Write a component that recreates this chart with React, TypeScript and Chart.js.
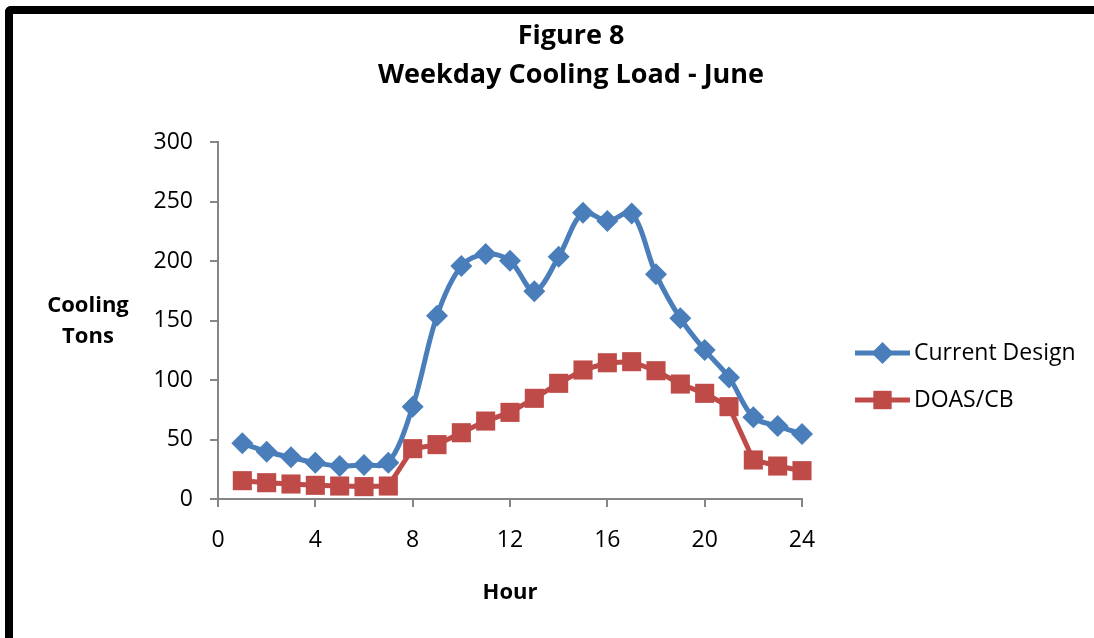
import React, { useEffect, useRef } from 'react';
import { Chart, registerables } from 'chart.js';

Chart.register(...registerables);

const hours = [1, 2, 3, 4, 5, 6, 7, 8, 9, 10, 11, 12, 13, 14, 15, 16, 17, 18, 19, 20, 21, 22, 23, 24];
const currentDesign = [46.8, 39.7, 35, 30.5, 27.7, 28.6, 30.5, 77.6, 154, 195.8, 205.9, 200.3, 174.5, 203.6, 240.6, 233.6, 240, 188.8, 151.8, 125.2, 102.2, 68.6, 61.3, 54.6];
const doasCb = [15.4, 13.7, 12.6, 11.5, 10.9, 10.4, 10.9, 42.3, 45.7, 55.7, 65.5, 72.8, 84.6, 97.2, 108.4, 114.5, 115.4, 107.8, 96.6, 88.8, 77.6, 32.8, 27.7, 23.8];
const seriesNames = ['Current Design', 'DOAS/CB'];
const titleLines = ['Figure 8', 'Weekday Cooling Load - June'];
const yTitleLines = ['Cooling', 'Tons'];
const xTitle = 'Hour';
const xMin = 0;
const xMax = 24;
const xStep = 4;
const yMin = 0;
const yMax = 300;
const yStep = 50;

const BLUE = '#4A7EBB';
const RED = '#BE4B48';
const AXIS = '#868686';
const FONT = "'Open Sans', sans-serif";

const textPlugin = {
  id: 'customText',
  afterDraw(chart: any) {
    const ctx = chart.ctx;
    const area = chart.chartArea;
    ctx.save();
    ctx.fillStyle = '#000';
    ctx.textAlign = 'center';
    ctx.textBaseline = 'middle';
    ctx.font = `bold 27px ${FONT}`;
    ctx.fillText(titleLines[0], 571, 36);
    ctx.fillText(titleLines[1], 571, 75);
    ctx.font = `bold 22px ${FONT}`;
    ctx.fillText(yTitleLines[0], 88, 306);
    ctx.fillText(yTitleLines[1], 88, 337);
    const colors = [BLUE, RED];
    const styles = ['rectRot', 'rect'];
    const radii = [11, 13];
    const ys = [353, 400];
    const lx0 = area.right + 53;
    const lx1 = area.right + 108;
    for (let i = 0; i < seriesNames.length; i++) {
      const y = ys[i];
      ctx.strokeStyle = colors[i];
      ctx.lineWidth = 5;
      ctx.beginPath();
      ctx.moveTo(lx0, y);
      ctx.lineTo(lx1, y);
      ctx.stroke();
      ctx.fillStyle = colors[i];
      ctx.beginPath();
      const cx = (lx0 + lx1) / 2;
      if (styles[i] === 'rectRot') {
        const r = radii[i];
        ctx.moveTo(cx - r, y);
        ctx.lineTo(cx, y - r);
        ctx.lineTo(cx + r, y);
        ctx.lineTo(cx, y + r);
        ctx.closePath();
      } else {
        const s = radii[i] * Math.SQRT1_2;
        ctx.rect(cx - s, y - s, 2 * s, 2 * s);
      }
      ctx.fill();
      ctx.fillStyle = '#000';
      ctx.textAlign = 'left';
      ctx.font = `23px ${FONT}`;
      ctx.fillText(seriesNames[i], lx1 + 4, y);
    }
    ctx.restore();
  },
};

export default function App() {
  const canvasRef = useRef<HTMLCanvasElement | null>(null);

  useEffect(() => {
    const canvas = canvasRef.current;
    if (!canvas) return;
    const chart = new Chart(canvas, {
      type: 'line',
      data: {
        datasets: [
          {
            label: seriesNames[0],
            data: hours.map((h, i) => ({ x: h, y: currentDesign[i] })),
            borderColor: BLUE,
            backgroundColor: BLUE,
            borderWidth: 5,
            tension: 0.33,
            pointStyle: 'rectRot',
            pointRadius: 11,
            pointBorderWidth: 0,
            pointBackgroundColor: BLUE,
            pointBorderColor: BLUE,
            clip: false,
          },
          {
            label: seriesNames[1],
            data: hours.map((h, i) => ({ x: h, y: doasCb[i] })),
            borderColor: RED,
            backgroundColor: RED,
            borderWidth: 5,
            tension: 0,
            pointStyle: 'rect',
            pointRadius: 13.5,
            pointBorderWidth: 0,
            pointBackgroundColor: RED,
            pointBorderColor: RED,
            clip: false,
          },
        ],
      },
      options: {
        animation: false,
        responsive: false,
        devicePixelRatio: 1,
        layout: { padding: { top: 142, left: 0, right: 292, bottom: 0 } },
        plugins: {
          legend: { display: false },
          title: { display: false },
          tooltip: { enabled: false },
        },
        scales: {
          x: {
            type: 'linear',
            min: xMin,
            max: xMax,
            ticks: {
              stepSize: xStep,
              color: '#000',
              font: { family: FONT, size: 23 },
              padding: 20,
              maxRotation: 0,
            },
            grid: {
              drawOnChartArea: false,
              drawTicks: true,
              tickLength: 8,
              color: AXIS,
              lineWidth: 2,
            },
            border: { display: true, color: AXIS, width: 2 },
            title: {
              display: true,
              text: xTitle,
              color: '#000',
              font: { family: FONT, size: 22, weight: 'bold' },
              padding: { top: 0, bottom: 32 },
            },
            afterFit: (s: any) => {
              s.height = 139;
            },
          },
          y: {
            type: 'linear',
            min: yMin,
            max: yMax,
            ticks: {
              stepSize: yStep,
              color: '#000',
              font: { family: FONT, size: 23 },
              padding: 17,
            },
            grid: {
              drawOnChartArea: false,
              drawTicks: true,
              tickLength: 8,
              color: AXIS,
              lineWidth: 2,
            },
            border: { display: true, color: AXIS, width: 2 },
            afterFit: (s: any) => {
              s.width = 218;
            },
          },
        },
      },
      plugins: [textPlugin],
    });
    return () => chart.destroy();
  }, []);

  return (
    <div style={{ position: 'fixed', left: 0, top: 0, width: 1094, height: 638, background: '#fff', overflow: 'hidden' }}>
      <canvas ref={canvasRef} width={1094} height={638} style={{ position: 'absolute', left: 0, top: 0, width: 1094, height: 638 }} />
      <div
        style={{
          position: 'absolute',
          left: 5,
          top: 6,
          width: 1200,
          height: 700,
          borderTop: '8px solid #000',
          borderLeft: '8px solid #000',
          borderTopLeftRadius: 6,
          boxSizing: 'border-box',
          pointerEvents: 'none',
        }}
      />
    </div>
  );
}
